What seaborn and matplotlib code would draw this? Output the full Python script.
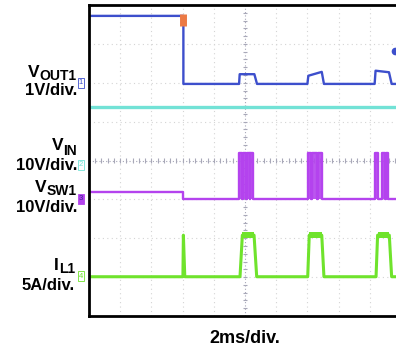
import numpy as np
import pandas as pd
import matplotlib
matplotlib.use("Agg")
import matplotlib.pyplot as plt
import seaborn as sns

# ---------------- data (time in ms, 2 ms/div; traces in screen divisions) -------------
# V_OUT1 (1 V/div)
vout_t = [-10, -3.95, -3.95, -0.38, -0.34, 0.60, 0.77, 4.00, 4.06, 4.92, 5.06, 8.31, 8.37, 9.23, 9.40, 10]
vout_y = [3.72, 3.72, 1.97, 1.97, 2.22, 2.22, 1.97, 1.97, 2.18, 2.28, 1.97, 1.97, 2.31, 2.27, 1.97, 1.97]

# V_IN (10 V/div)
vin_t = [-10, 10]
vin_y = [1.37, 1.37]

# V_SW1 (10 V/div): level before/after load step and burst pulse intervals
sw_step_t = -3.95
sw_before = -0.81
sw_low = -0.98
sw_top = 0.20
sw_pulses = [(-0.38, -0.22), (-0.15, 0.05), (0.10, 0.30), (0.35, 0.51),
             (4.04, 4.25), (4.32, 4.60), (4.66, 4.94),
             (8.33, 8.55), (8.78, 8.95), (9.02, 9.17)]

# I_L1 (5 A/div): baseline, spike and pulses (rise start, rise end, fall start, fall end)
il_base = -2.99
il_top = -1.92
il_band = 0.085
il_spike_t = [-3.98, -3.95, -3.86]
il_spike_y = [-2.99, -1.92, -2.99]
il_pulses = [(-0.32, -0.17, 0.58, 0.75),
             (4.02, 4.12, 4.92, 5.06),
             (8.40, 8.50, 9.25, 9.40)]

trigger_t = -3.95
trig_level = 2.82

# ---------------- style -----------------
sns.set_theme(style="white")
plt.rcParams["font.family"] = ["Liberation Sans", "DejaVu Sans"]

BLUE = "#3d4fcc"
CYAN = "#72e2d6"
PURPLE = "#b443ee"
GREEN = "#6fe32c"

W, H = 396, 349
PX_PER_MS = 312 / 20.0
fig = plt.figure(figsize=(W / 100, H / 100), dpi=100)
fig.patch.set_facecolor("white")
ax = fig.add_axes([89 / W, 1 - 316 / H, (W - 89) / W, 311 / H])
ax.set_xlim(-10, -10 + (W - 89) / PX_PER_MS)
ax.set_ylim(-4, 4)
ax.set_facecolor("white")

# graticule
for x in np.arange(-8, 10, 2):
    if x != 0:
        ax.axvline(x, color="#d4d4d4", lw=0.8, ls=(0, (1, 3)), zorder=0)
for y in np.arange(-3, 4, 1):
    if y != 0:
        ax.axhline(y, color="#d4d4d4", lw=0.8, ls=(0, (1, 3)), zorder=0)
ax.axvline(0, color="#a8a8b8", lw=0.8, ls=(0, (1, 2)), zorder=0)
ax.axhline(0, color="#a8a8b8", lw=0.8, ls=(0, (1, 2)), zorder=0)
ax.vlines(np.arange(-10, 9.7, 0.4), -0.06, 0.06, color="#a8a8b8", lw=0.8, zorder=0)
ax.hlines(np.arange(-4, 4.01, 0.2), -0.13, 0.13, color="#a8a8b8", lw=0.8, zorder=0)

# V_IN
sns.lineplot(x=vin_t, y=vin_y, ax=ax, color=CYAN, lw=2.4, sort=False, estimator=None)

# V_SW1
sw_t = [-10, sw_step_t, sw_step_t]
sw_y = [sw_before, sw_before, sw_low]
for a, b in sw_pulses:
    sw_t += [a, a, b, b]
    sw_y += [sw_low, sw_top, sw_top, sw_low]
sw_t += [10]
sw_y += [sw_low]
for a, b in sw_pulses:
    ax.fill_between([a, b], sw_low, sw_top, color=PURPLE, lw=0, alpha=0.9)
sns.lineplot(x=sw_t, y=sw_y, ax=ax, color=PURPLE, lw=1.7, sort=False, estimator=None)

# I_L1
il_t = [-10] + il_spike_t
il_y = [il_base] + il_spike_y
for r0, r1, f0, f1 in il_pulses:
    il_t += [r0, r1, f0, f1]
    il_y += [il_base, il_top, il_top, il_base]
il_t += [10]
il_y += [il_base]
sns.lineplot(x=il_t, y=il_y, ax=ax, color=GREEN, lw=2.2, sort=False, estimator=None)
for r0, r1, f0, f1 in il_pulses:
    ax.fill_between([r1, f0], il_top - il_band, il_top + il_band, color=GREEN, lw=0)

# V_OUT1
sns.lineplot(x=vout_t, y=vout_y, ax=ax, color=BLUE, lw=1.7, sort=False, estimator=None)

ax.set_xlabel("")
ax.set_ylabel("")
ax.set_xticks([])
ax.set_yticks([])
for side in ["left", "top", "bottom"]:
    ax.spines[side].set_color("black")
    ax.spines[side].set_linewidth(2.0)
ax.spines["right"].set_visible(False)

# trigger markers
ax.plot([trigger_t], [3.62], marker="|", ms=9, mew=5, color="#ec7a45", clip_on=False, zorder=5)
ax.plot([9.6], [trig_level], marker="o", ms=4.5, color=BLUE, clip_on=False, zorder=5)

# labels
renderer = fig.canvas.get_renderer()


def label(main, sub, right_px, base_main, base_sub, size_main=12.5, size_sub=10):
    s = fig.text(right_px / W, 1 - base_sub / H, sub, ha="right", va="baseline",
                 fontsize=size_sub, fontweight="bold", color="black")
    bb = s.get_window_extent(renderer)
    fig.text(bb.x0 / W, 1 - base_main / H, main, ha="right", va="baseline",
             fontsize=size_main, fontweight="bold", color="black")


def plain(txt, right_px, base, size=12):
    fig.text(right_px / W, 1 - base / H, txt, ha="right", va="baseline",
             fontsize=size, fontweight="bold", color="black")


label("V", "OUT1", 77, 77, 80)
plain("1V/div.", 77, 95)
label("V", "IN", 77, 150, 155)
plain("10V/div.", 77, 170)
label("V", "SW1", 77, 192, 195)
plain("10V/div.", 77, 212)
label("I", "L1", 75, 270, 273)
plain("5A/div.", 75, 290)
fig.text(245 / W, 1 - 343 / H, "2ms/div.", ha="center", va="baseline",
         fontsize=13, fontweight="bold", color="black")

# channel tags
def tag(txt, ypx, ec, fc, tc):
    fig.text(81 / W, 1 - ypx / H, txt, ha="center", va="center", fontsize=5.5, color=tc,
             bbox=dict(boxstyle="square,pad=0.15", fc=fc, ec=ec, lw=0.6))


tag("1", 83, BLUE, "white", BLUE)
tag("2", 165, CYAN, "white", CYAN)
tag("3", 199, PURPLE, PURPLE, "#3a2a90")
tag("4", 276, GREEN, "white", GREEN)

fig.savefig("out.png", dpi=100, facecolor="white")
